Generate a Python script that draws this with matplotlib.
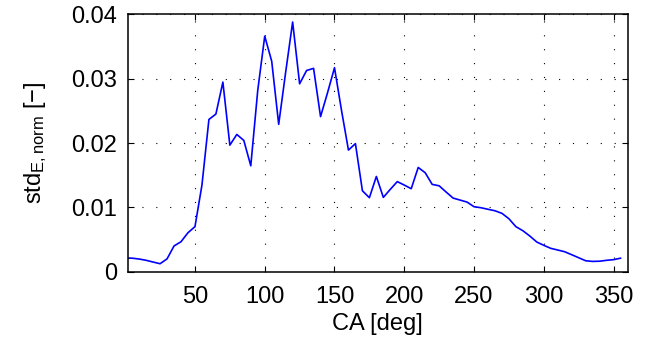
import matplotlib
matplotlib.use("Agg")
import matplotlib.pyplot as plt
import numpy as np

# Crank angle [deg] and normalized standard deviation of E
ca_deg = list(range(0, 360, 5))
std_e_norm = [
    0.00213, 0.00210, 0.00197, 0.00177, 0.00150, 0.00124, 0.00200, 0.00400,
    0.00466, 0.00606, 0.00700, 0.01346, 0.02366, 0.02450, 0.02946, 0.01967,
    0.02133, 0.02040, 0.01646, 0.02820, 0.03660, 0.03270, 0.02290, 0.03100,
    0.03880, 0.02920, 0.03127, 0.03160, 0.02410, 0.02780, 0.03170, 0.02510,
    0.01890, 0.01990, 0.01258, 0.01150, 0.01480, 0.01155, 0.01280, 0.01400,
    0.01346, 0.01290, 0.01620, 0.01538, 0.01357, 0.01335, 0.01238, 0.01144,
    0.01113, 0.01082, 0.01010, 0.00994, 0.00970, 0.00947, 0.00907, 0.00823,
    0.00700, 0.00637, 0.00554, 0.00461, 0.00410, 0.00363, 0.00337, 0.00310,
    0.00264, 0.00217, 0.00170, 0.00160, 0.00163, 0.00177, 0.00187, 0.00210,
]
x_ticks = [50, 100, 150, 200, 250, 300, 350]
y_ticks = [0, 0.01, 0.02, 0.03, 0.04]
y_tick_labels = ["0", "0.01", "0.02", "0.03", "0.04"]

plt.rcParams["font.family"] = ["Liberation Sans", "DejaVu Sans"]
plt.rcParams["mathtext.fontset"] = "custom"
plt.rcParams["mathtext.rm"] = "Liberation Sans"
plt.rcParams["mathtext.it"] = "Liberation Sans:italic"

fig = plt.figure(figsize=(6.51, 3.39), dpi=100)
ax = fig.add_axes([128 / 651, 1 - 271.7 / 339, (627.5 - 128) / 651, (271.7 - 14.3) / 339])

ax.plot(ca_deg, std_e_norm, color=(0, 0, 1), lw=1.2)

ax.set_xlim(2, 360)
ax.set_ylim(0, 0.04)
ax.set_xticks(x_ticks)
ax.set_yticks(y_ticks)
ax.set_yticklabels(y_tick_labels)

ax.grid(True, color="black", linestyle=(0, (1, 11.5)), linewidth=0.8)
ax.tick_params(direction="in", top=True, right=True, length=4, width=0.8,
               labelsize=17, pad=8, colors="black")
ax.tick_params(axis="x", pad=10)
for s in ax.spines.values():
    s.set_linewidth(1.1)

ax.set_xlabel("CA [deg]", fontsize=17, labelpad=4)
ax.set_ylabel(r"std$_{\mathrm{E,norm}}$ [−]", fontsize=17, labelpad=16)

fig.savefig("out.png", dpi=100)
